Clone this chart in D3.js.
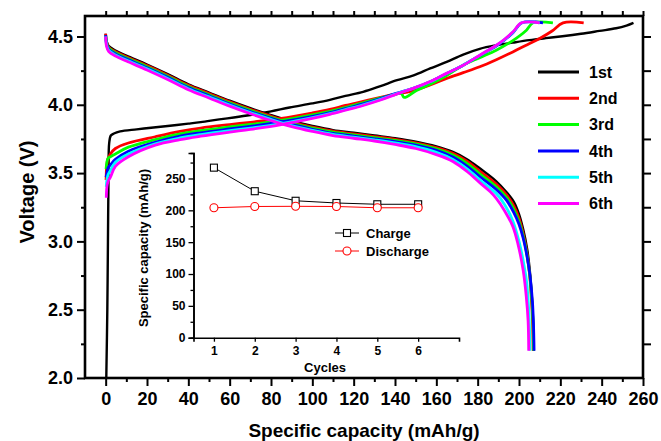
<!DOCTYPE html>
<html>
<head>
<meta charset="utf-8">
<script src="https://cdn.jsdelivr.net/npm/d3@7"></script>
<style>
  html, body { margin: 0; padding: 0; background: #fff; }
  svg text { font-family: "Liberation Sans", Arial, sans-serif; font-weight: bold; fill: #000; }
</style>
</head>
<body>
<svg id="chart" width="661" height="441"></svg>
<script>
// cycle names + colours
var cycles = ["1st", "2nd", "3rd", "4th", "5th", "6th"];
var colors = ["#000000", "#ff0000", "#00ff00", "#0000ff", "#00ffff", "#ff00ff"];

// charge curves [capacity mAh/g, voltage V]
var charge1 = [[0.3,2.0],[0.8,2.5],[1.1,3.0],[1.4,3.5],[1.7,3.72],[2.5,3.775],[4,3.79],[7,3.805],[15,3.82],[22,3.832],[30,3.845],[40,3.862],[46,3.873],[55,3.893],[62,3.907],[70,3.925],[80,3.952],[89,3.98],[100,4.01],[108.5,4.036],[116,4.065],[124.6,4.095],[133,4.137],[141,4.18],[149,4.215],[157,4.266],[165,4.314],[173,4.368],[181,4.41],[189,4.436],[197,4.455],[205,4.473],[213,4.488],[221,4.502],[230,4.52],[239,4.541],[247,4.56],[252,4.58],[255.4,4.6]];
var charge2 = [[0.2,3.45],[0.5,3.55],[1,3.6],[2.3,3.64],[4.7,3.68],[11,3.72],[24,3.766],[36,3.805],[46,3.83],[60,3.855],[70,3.872],[85,3.9],[100,3.94],[108.5,3.966],[116,3.995],[124.6,4.025],[133,4.055],[140,4.078],[148,4.1],[157,4.145],[165,4.193],[173,4.235],[181,4.278],[189,4.33],[197,4.387],[204,4.44],[210,4.485],[216,4.54],[221.3,4.6],[231.3,4.6]];
var charge3 = [[0.2,3.53],[0.6,3.58],[1.2,3.61],[2.3,3.62],[4.7,3.64],[11,3.69],[24,3.745],[36,3.787],[46,3.81],[60,3.838],[70,3.856],[85,3.886],[100,3.926],[108.5,3.952],[116,3.98],[124.6,4.015],[133,4.05],[140,4.075],[143,4.085],[144.4,4.054],[150.4,4.105],[157,4.15],[165,4.215],[173,4.29],[181,4.345],[189,4.4],[197,4.47],[203.6,4.546],[206.8,4.6],[216.4,4.6]];
var charge4 = [[0.2,3.47],[0.6,3.5],[1.2,3.54],[2.3,3.56],[4.7,3.6],[11,3.66],[24,3.725],[36,3.77],[46,3.795],[60,3.823],[70,3.842],[85,3.874],[100,3.915],[108.5,3.943],[116,3.972],[124.6,4.007],[133,4.045],[141,4.085],[148.8,4.12],[157,4.168],[164.9,4.228],[173,4.29],[181,4.36],[189,4.43],[193,4.475],[197.1,4.528],[201.5,4.6],[211.6,4.6]];
var charge5 = [[0.3,3.4],[0.6,3.45],[1.2,3.49],[2.3,3.52],[4.7,3.58],[11,3.64],[24,3.715],[36,3.757],[46,3.782],[60,3.81],[70,3.83],[85,3.863],[100,3.906],[108.5,3.935],[116,3.965],[124.6,4.0],[133,4.04],[141,4.082],[148.8,4.12],[157,4.169],[164.9,4.229],[173,4.29],[181,4.362],[189,4.434],[193,4.478],[197.1,4.532],[201.3,4.6],[210,4.6]];
var charge6 = [[0.3,3.32],[0.6,3.4],[1.2,3.44],[2.3,3.47],[4.7,3.55],[11,3.62],[24,3.705],[36,3.745],[46,3.77],[60,3.8],[70,3.82],[85,3.855],[100,3.9],[108.5,3.93],[116,3.96],[124.6,3.995],[133,4.035],[141,4.08],[148.8,4.12],[157,4.17],[164.9,4.23],[173,4.29],[181,4.363],[189,4.436],[193,4.48],[197.1,4.534],[201.2,4.6],[210,4.6]];

// discharge curves
var discharge1 = [[0,4.52],[0.4,4.47],[1.5,4.43],[5,4.395],[10,4.36],[20,4.295],[30,4.225],[40,4.15],[50,4.09],[60,4.03],[70,3.975],[80,3.925],[90,3.88],[100,3.845],[110,3.815],[120,3.795],[130,3.775],[140,3.755],[150,3.73],[160,3.695],[168,3.655],[175,3.6],[181,3.535],[189,3.44],[194,3.36],[197.5,3.29],[200,3.2],[202,3.09],[204,2.94],[205.2,2.79],[206.2,2.6],[206.8,2.42],[207.1,2.2]];
var discharge2 = [[0,4.52],[0.4,4.46],[1.5,4.42],[5,4.387],[10,4.352],[20,4.287],[30,4.217],[40,4.142],[50,4.082],[60,4.022],[70,3.967],[80,3.917],[90,3.872],[100,3.837],[110,3.807],[120,3.787],[130,3.767],[140,3.747],[150,3.722],[160,3.687],[168,3.645],[175,3.585],[181,3.515],[189,3.42],[194,3.34],[197.5,3.26],[200,3.17],[202,3.06],[204,2.9],[205.2,2.75],[206.1,2.55],[206.6,2.4],[206.8,2.2]];
var discharge3 = [[0,4.51],[0.4,4.455],[1.5,4.414],[5,4.379],[10,4.344],[20,4.279],[30,4.209],[40,4.134],[50,4.074],[60,4.014],[70,3.959],[80,3.909],[90,3.864],[100,3.829],[110,3.799],[120,3.779],[130,3.759],[140,3.739],[150,3.714],[160,3.677],[168,3.632],[175,3.57],[181,3.495],[189,3.4],[194,3.32],[197.5,3.235],[200,3.145],[202,3.04],[204,2.89],[205.3,2.74],[206.3,2.55],[206.8,2.4],[207,2.2]];
var discharge4 = [[0,4.51],[0.4,4.45],[1.5,4.406],[5,4.371],[10,4.336],[20,4.271],[30,4.201],[40,4.126],[50,4.066],[60,4.006],[70,3.951],[80,3.901],[90,3.856],[100,3.821],[110,3.791],[120,3.771],[130,3.751],[140,3.731],[150,3.705],[160,3.667],[168,3.618],[175,3.55],[181,3.475],[189,3.38],[194,3.3],[197.5,3.21],[200,3.125],[202,3.025],[204,2.88],[205.4,2.74],[206.5,2.56],[207,2.4],[207.3,2.2]];
var discharge5 = [[0,4.5],[0.4,4.44],[1.5,4.398],[5,4.363],[10,4.328],[20,4.263],[30,4.193],[40,4.118],[50,4.058],[60,3.998],[70,3.943],[80,3.893],[90,3.848],[100,3.813],[110,3.783],[120,3.763],[130,3.743],[140,3.721],[150,3.694],[160,3.652],[168,3.6],[175,3.53],[181,3.45],[189,3.35],[193,3.27],[197,3.15],[200,3.0],[202,2.86],[203.7,2.7],[204.7,2.5],[205.1,2.35],[205.2,2.2]];
var discharge6 = [[0,4.5],[0.4,4.43],[1.5,4.39],[5,4.355],[10,4.32],[20,4.255],[30,4.185],[40,4.11],[50,4.05],[60,3.99],[70,3.935],[80,3.885],[90,3.84],[100,3.805],[110,3.775],[120,3.755],[130,3.735],[140,3.71],[150,3.68],[160,3.635],[168,3.585],[175,3.51],[181,3.43],[186,3.365],[189,3.315],[193,3.225],[197,3.11],[199.5,2.98],[202,2.79],[203.5,2.6],[204.4,2.42],[204.7,2.2]];

var chargeCurves = [charge1, charge2, charge3, charge4, charge5, charge6];
var dischargeCurves = [discharge1, discharge2, discharge3, discharge4, discharge5, discharge6];

// inset: capacity per cycle
var insetCycles = [1, 2, 3, 4, 5, 6];
var insetCharge = [267, 230, 215, 211.5, 209.5, 209.5];
var insetDischarge = [204, 206, 206.3, 206, 204, 204];

var xTicks = [0, 20, 40, 60, 80, 100, 120, 140, 160, 180, 200, 220, 240, 260];
var yTicks = [2.0, 2.5, 3.0, 3.5, 4.0, 4.5];
var insetYTicks = [0, 50, 100, 150, 200, 250];

var svg = d3.select("#chart");
var margin = {left: 85, top: 16, right: 18, bottom: 63};
var width = 661 - margin.left - margin.right,
    height = 441 - margin.top - margin.bottom;

var x = d3.scaleLinear().domain([-10, 260]).range([margin.left, margin.left + width]);
var y = d3.scaleLinear().domain([2.0, 4.65]).range([margin.top + height, margin.top]);

var line = d3.line()
  .x(function(d){ return x(d[0]); })
  .y(function(d){ return y(d[1]); })
  .curve(d3.curveMonotoneX);

var lineC = d3.line()
  .x(function(d){ return x(d[0]); })
  .y(function(d){ return y(d[1]); })
  .curve(d3.curveCatmullRom.alpha(0.5));

// curves, cycle by cycle so 6th ends on top
var curves = svg.append("g");
cycles.forEach(function(c, i){
  curves.append("path")
    .attr("d", lineC(chargeCurves[i]))
    .attr("fill", "none")
    .attr("stroke", colors[i])
    .attr("stroke-width", i == 0 ? 2.4 : 2.8)
    .attr("stroke-linejoin", "round");
  curves.append("path")
    .attr("d", lineC(dischargeCurves[i]))
    .attr("fill", "none")
    .attr("stroke", colors[i])
    .attr("stroke-width", i == 0 ? 2.4 : 2.8)
    .attr("stroke-linejoin", "round");
});

// axes
var xAxisB = d3.axisBottom(x).tickValues(xTicks).tickSize(8).tickPadding(6).tickFormat(d3.format("d"));
var xAxisT = d3.axisTop(x).tickValues(d3.range(0, 261, 10)).tickSize(5).tickFormat("");
var yAxisL = d3.axisLeft(y).tickValues(yTicks).tickSize(8).tickPadding(4).tickFormat(d3.format(".1f"));
var yAxisR = d3.axisRight(y).tickValues([2.25, 2.5, 2.75, 3.0, 3.25, 3.5, 3.75, 4.0, 4.25, 4.5]).tickSize(8).tickFormat("");

var gx = svg.append("g").attr("transform", "translate(0," + (margin.top + height) + ")").call(xAxisB);
svg.append("g").attr("transform", "translate(0," + (margin.top + height) + ")")
  .call(d3.axisBottom(x).tickValues(d3.range(10, 260, 20)).tickSize(4).tickFormat(""));
svg.append("g").attr("transform", "translate(0," + margin.top + ")").call(xAxisT);
var gy = svg.append("g").attr("transform", "translate(" + margin.left + ",0)").call(yAxisL);
svg.append("g").attr("transform", "translate(" + margin.left + ",0)")
  .call(d3.axisLeft(y).tickValues([2.25, 2.75, 3.25, 3.75, 4.25]).tickSize(4).tickFormat(""));
svg.append("g").attr("transform", "translate(" + (margin.left + width) + ",0)").call(yAxisR);

svg.selectAll(".domain").remove();
svg.selectAll(".tick line").attr("stroke", "#000").attr("stroke-width", 2);
gx.selectAll("text").attr("font-size", 18).attr("font-family", null);
gy.selectAll("text").attr("font-size", 18).attr("font-family", null);

svg.append("rect")
  .attr("x", margin.left).attr("y", margin.top)
  .attr("width", width).attr("height", height)
  .attr("fill", "none").attr("stroke", "#000").attr("stroke-width", 2.6);

svg.append("text")
  .attr("x", 364).attr("y", 437)
  .attr("text-anchor", "middle").attr("font-size", 19)
  .text("Specific capacity (mAh/g)");
svg.append("text")
  .attr("transform", "translate(34,192) rotate(-90)")
  .attr("text-anchor", "middle").attr("font-size", 20)
  .text("Voltage (V)");

// legend
var legend = svg.append("g");
cycles.forEach(function(c, i){
  var ly = 72 + i * 26.3;
  legend.append("line")
    .attr("x1", 538).attr("x2", 579).attr("y1", ly).attr("y2", ly)
    .attr("stroke", colors[i]).attr("stroke-width", 3);
  legend.append("text")
    .attr("x", 589).attr("y", ly).attr("dy", "0.36em")
    .attr("font-size", 16).text(c);
});

// inset
var ix = d3.scaleLinear().domain([0.5, 7]).range([193.5, 459]);
var iy = d3.scaleLinear().domain([0, 290]).range([337.7, 153]);
var inset = svg.append("g");

var ixAxis = d3.axisBottom(ix).tickValues(insetCycles).tickSize(4).tickPadding(5).tickFormat(d3.format("d"));
var iyAxis = d3.axisLeft(iy).tickValues(insetYTicks).tickSize(5).tickPadding(3);
var gix = inset.append("g").attr("transform", "translate(0," + iy(0) + ")").call(ixAxis);
var giy = inset.append("g").attr("transform", "translate(" + ix(0.5) + ",0)").call(iyAxis);
inset.append("g").attr("transform", "translate(" + ix(0.5) + ",0)")
  .call(d3.axisLeft(iy).tickValues([25, 75, 125, 175, 225, 275]).tickSize(3).tickFormat(""));
inset.selectAll(".domain").attr("stroke", "#000").attr("stroke-width", 1.6);
inset.selectAll(".tick line").attr("stroke", "#000").attr("stroke-width", 1.3);
inset.selectAll("text").attr("font-size", 12).attr("font-family", null);

inset.append("text")
  .attr("x", 325).attr("y", 372)
  .attr("text-anchor", "middle").attr("font-size", 13)
  .text("Cycles");
inset.append("text")
  .attr("transform", "translate(148,248) rotate(-90)")
  .attr("text-anchor", "middle").attr("font-size", 13)
  .text("Specific capacity (mAh/g)");

var iline = d3.line()
  .x(function(d, i){ return ix(insetCycles[i]); })
  .y(function(d){ return iy(d); });

inset.append("path").attr("d", iline(insetCharge))
  .attr("fill", "none").attr("stroke", "#000").attr("stroke-width", 1);
inset.append("path").attr("d", iline(insetDischarge))
  .attr("fill", "none").attr("stroke", "#ff0000").attr("stroke-width", 1);

inset.selectAll(".sq").data(insetCharge).enter().append("rect")
  .attr("x", function(d, i){ return ix(insetCycles[i]) - 3.5; })
  .attr("y", function(d){ return iy(d) - 3.5; })
  .attr("width", 7).attr("height", 7)
  .attr("fill", "#fff").attr("stroke", "#000").attr("stroke-width", 1.1);
inset.selectAll(".ci").data(insetDischarge).enter().append("circle")
  .attr("cx", function(d, i){ return ix(insetCycles[i]); })
  .attr("cy", function(d){ return iy(d); })
  .attr("r", 4)
  .attr("fill", "#fff").attr("stroke", "#ff0000").attr("stroke-width", 1.1);

// inset legend
var ilg = [["Charge", "#000", "sq", 233], ["Discharge", "#ff0000", "ci", 251]];
ilg.forEach(function(l){
  inset.append("line").attr("x1", 335).attr("x2", 359).attr("y1", l[3]).attr("y2", l[3])
    .attr("stroke", l[1]).attr("stroke-width", 1);
  if (l[2] == "sq") {
    inset.append("rect").attr("x", 343.5).attr("y", l[3] - 3.5).attr("width", 7).attr("height", 7)
      .attr("fill", "#fff").attr("stroke", l[1]).attr("stroke-width", 1.1);
  } else {
    inset.append("circle").attr("cx", 347).attr("cy", l[3]).attr("r", 4)
      .attr("fill", "#fff").attr("stroke", l[1]).attr("stroke-width", 1.1);
  }
  inset.append("text").attr("x", 366).attr("y", l[3]).attr("dy", "0.36em")
    .attr("font-size", 13).text(l[0]);
});
</script>
</body>
</html>
